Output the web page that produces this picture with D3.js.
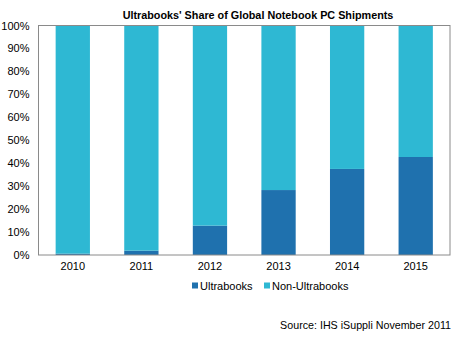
<!DOCTYPE html>
<html>
<head>
<meta charset="utf-8">
<script src="https://cdn.jsdelivr.net/npm/d3@7"></script>
<style>
  html, body { margin: 0; padding: 0; background: #fff; }
  svg { display: block; font-family: "Liberation Sans", Arial, sans-serif; }
</style>
</head>
<body>
<svg id="chart" width="459" height="344"></svg>
<script>
// Ultrabooks' share of global notebook PC shipments (percent)
const years = ["2010", "2011", "2012", "2013", "2014", "2015"];
const ultrabooks = [0.6, 1.9, 12.8, 28.3, 37.5, 42.7];
const nonUltrabooks = ultrabooks.map(v => 100 - v);
const yTicks = [0, 10, 20, 30, 40, 50, 60, 70, 80, 90, 100];
const seriesNames = ["Ultrabooks", "Non-Ultrabooks"];
const colors = ["#1f71ae", "#2eb8d3"];

const svg = d3.select("#chart");
const plot = { left: 38.5, right: 450, top: 25.5, bottom: 255 };

const x = d3.scaleBand().domain(years).range([plot.left, plot.right]).paddingInner(0.5).paddingOuter(0.25);
const y = d3.scaleLinear().domain([0, 100]).range([plot.bottom, plot.top]);

// Stack the two series
const rows = years.map((yr, i) => ({ year: yr, Ultrabooks: ultrabooks[i], "Non-Ultrabooks": nonUltrabooks[i] }));
const stacked = d3.stack().keys(seriesNames)(rows);

svg.append("g")
  .selectAll("g")
  .data(stacked)
  .join("g")
  .attr("fill", (d, i) => colors[i])
  .selectAll("rect")
  .data(d => d)
  .join("rect")
  .attr("x", d => x(d.data.year))
  .attr("width", x.bandwidth())
  .attr("y", d => y(d[1]))
  .attr("height", d => y(d[0]) - y(d[1]));

// Plot frame
svg.append("rect")
  .attr("x", plot.left).attr("y", plot.top)
  .attr("width", plot.right - plot.left).attr("height", plot.bottom - plot.top)
  .attr("fill", "none").attr("stroke", "#8a8a8a").attr("stroke-width", 1);

// Y axis labels
const yAxis = d3.axisLeft(y).tickValues(yTicks).tickFormat(d => d + "%").tickSize(0).tickPadding(9);
const yg = svg.append("g").attr("transform", `translate(${plot.left},0)`).call(yAxis);
yg.select(".domain").remove();
yg.selectAll("text").attr("font-size", 11).attr("fill", "#000").attr("font-family", "Liberation Sans, Arial, sans-serif");

// X axis labels
const xAxis = d3.axisBottom(x).tickSize(0).tickPadding(7);
const xg = svg.append("g").attr("transform", `translate(0,${plot.bottom})`).call(xAxis);
xg.select(".domain").remove();
xg.selectAll("text").attr("font-size", 11).attr("fill", "#000").attr("font-family", "Liberation Sans, Arial, sans-serif");

// Title
svg.append("text")
  .attr("x", 258).attr("y", 19)
  .attr("text-anchor", "middle")
  .attr("font-size", 10.8).attr("font-weight", "bold")
  .text("Ultrabooks' Share of Global Notebook PC Shipments");

// Legend
const legendX = [192, 264];
const legend = svg.append("g");
seriesNames.forEach((name, i) => {
  legend.append("rect")
    .attr("x", legendX[i]).attr("y", 282.5)
    .attr("width", 6).attr("height", 6)
    .attr("fill", colors[i]);
  legend.append("text")
    .attr("x", legendX[i] + 8).attr("y", 290)
    .attr("font-size", 11)
    .text(name);
});

// Source note
svg.append("text")
  .attr("x", 451).attr("y", 329)
  .attr("text-anchor", "end")
  .attr("font-size", 10.7)
  .text("Source: IHS iSuppli November 2011");
</script>
</body>
</html>
